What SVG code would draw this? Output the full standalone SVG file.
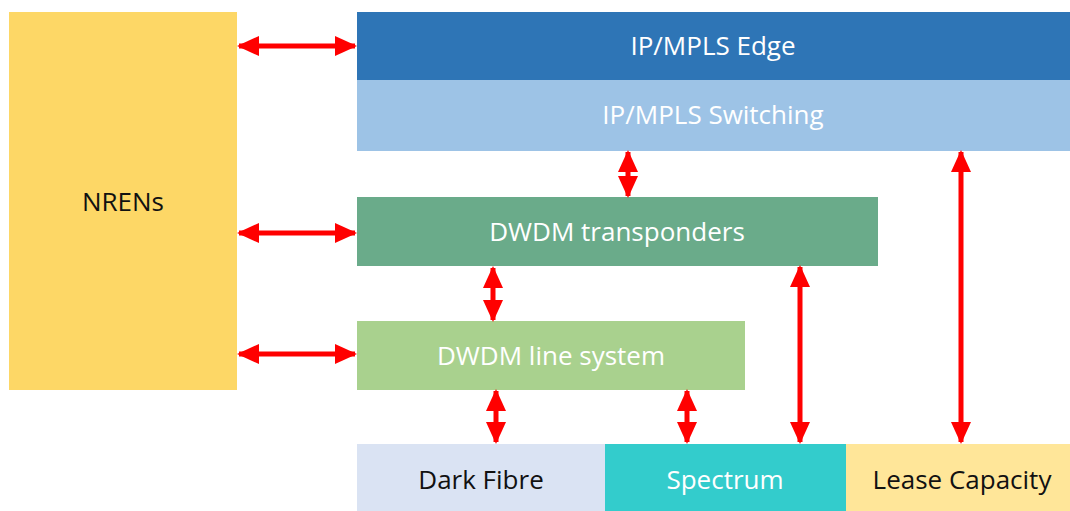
<svg xmlns="http://www.w3.org/2000/svg" width="1070" height="511" viewBox="0 0 1070 511">
<style>
text{font-family:"Open Sans","Liberation Sans",sans-serif;font-size:26px;text-anchor:middle;dominant-baseline:central}
.w{fill:#ffffff}.k{fill:#111111}
.ar{stroke:#ff0000;stroke-width:5;fill:none;marker-start:url(#h);marker-end:url(#h)}
</style>
<defs>
<marker id="h" markerUnits="userSpaceOnUse" markerWidth="22" markerHeight="22" viewBox="0 0 22 22" refX="20" refY="11" orient="auto-start-reverse">
<path d="M0,1 L22,11 L0,21 Z" fill="#ff0000"/>
</marker>
</defs>
<rect width="1070" height="511" fill="#ffffff"/>
<g id="nrens"><rect x="9" y="12" width="228" height="378" fill="#FDD766"/><text x="123" y="201" class="k">NRENs</text></g>
<g id="edge"><rect x="357" y="12" width="713" height="68" fill="#2E75B6"/><text x="713" y="45" class="w">IP/MPLS Edge</text></g>
<g id="switching"><rect x="357" y="80" width="713" height="71" fill="#9DC3E6"/><text x="713" y="114" class="w">IP/MPLS Switching</text></g>
<g id="transponders"><rect x="357" y="197" width="521" height="69" fill="#6AAB8A"/><text x="617" y="231" class="w">DWDM transponders</text></g>
<g id="linesystem"><rect x="357" y="321" width="388" height="69" fill="#A9D18E"/><text x="551" y="355" class="w">DWDM line system</text></g>
<g id="darkfibre"><rect x="357" y="444" width="248" height="67" fill="#DAE3F3"/><text x="481" y="479" class="k">Dark Fibre</text></g>
<g id="spectrum"><rect x="605" y="444" width="241" height="67" fill="#33CCCC"/><text x="725" y="479" class="w">Spectrum</text></g>
<g id="lease"><rect x="846" y="444" width="224" height="67" fill="#FFE699"/><text x="962" y="479" class="k">Lease Capacity</text></g>
<g id="connectors">
<line class="ar" x1="239" y1="46" x2="355" y2="46"/>
<line class="ar" x1="239" y1="233" x2="355" y2="233"/>
<line class="ar" x1="239" y1="354" x2="355" y2="354"/>
<line class="ar" x1="628" y1="152" x2="628" y2="196"/>
<line class="ar" x1="493" y1="268" x2="493" y2="320"/>
<line class="ar" x1="496" y1="391" x2="496" y2="442"/>
<line class="ar" x1="687" y1="391" x2="687" y2="442"/>
<line class="ar" x1="800" y1="267" x2="800" y2="442"/>
<line class="ar" x1="961" y1="152" x2="961" y2="442"/>
</g>
</svg>
